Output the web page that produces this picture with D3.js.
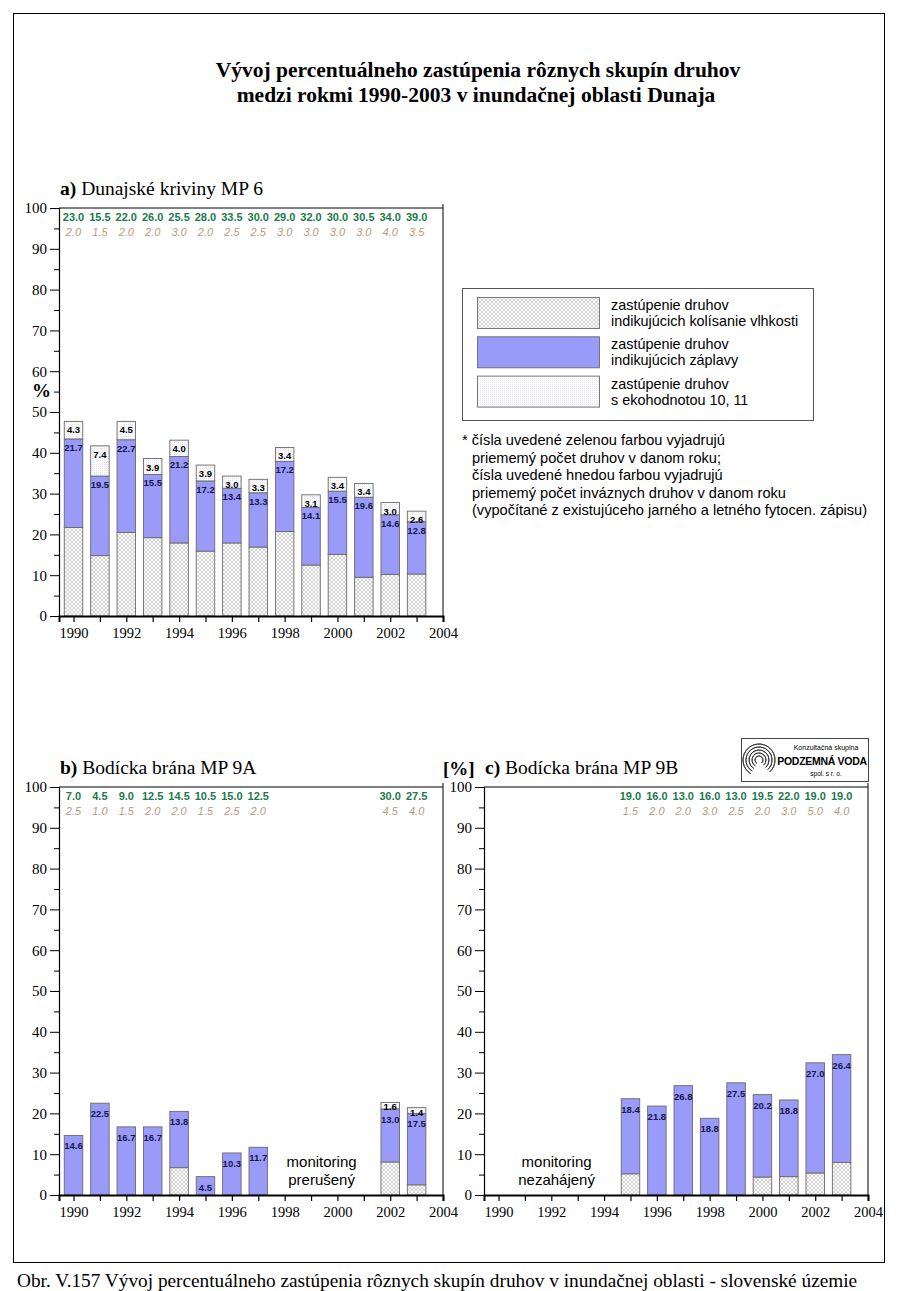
<!DOCTYPE html>
<html><head><meta charset="utf-8">
<script src="https://cdn.jsdelivr.net/npm/d3@7/dist/d3.min.js"></script>
<style>body{margin:0;background:#fff}svg{display:block}</style>
</head><body>
<script>
// ---------- data ----------
const yearsA = [1990,1991,1992,1993,1994,1995,1996,1997,1998,1999,2000,2001,2002,2003];
const fluctA = [21.7,14.8,20.5,19.2,17.9,15.9,17.9,16.9,20.7,12.5,15.1,9.5,10.2,10.3];
const floodA = [21.7,19.5,22.7,15.5,21.2,17.2,13.4,13.3,17.2,14.1,15.5,19.6,14.6,12.8];
const ecoA   = [4.3,7.4,4.5,3.9,4.0,3.9,3.0,3.3,3.4,3.1,3.4,3.4,3.0,2.6];
const speciesA  = ["23.0","15.5","22.0","26.0","25.5","28.0","33.5","30.0","29.0","32.0","30.0","30.5","34.0","39.0"];
const invasiveA = ["2.0","1.5","2.0","2.0","3.0","2.0","2.5","2.5","3.0","3.0","3.0","3.0","4.0","3.5"];

const yearsB = [1990,1991,1992,1993,1994,1995,1996,1997,2002,2003];
const fluctB = [0,0,0,0,6.7,0,0,0,8.1,2.5];
const floodB = [14.6,22.5,16.7,16.7,13.8,4.5,10.3,11.7,13.0,17.5];
const ecoB   = [0,0,0,0,0,0,0,0,1.6,1.4];
const speciesB  = ["7.0","4.5","9.0","12.5","14.5","10.5","15.0","12.5","30.0","27.5"];
const invasiveB = ["2.5","1.0","1.5","2.0","2.0","1.5","2.5","2.0","4.5","4.0"];

const yearsC = [1995,1996,1997,1998,1999,2000,2001,2002,2003];
const fluctC = [5.2,0,0,0,0,4.4,4.5,5.4,8.0];
const floodC = [18.4,21.8,26.8,18.8,27.5,20.2,18.8,27.0,26.4];
const ecoC   = [0,0,0,0,0,0,0,0,0];
const speciesC  = ["19.0","16.0","13.0","16.0","13.0","19.5","22.0","19.0","19.0"];
const invasiveC = ["1.5","2.0","2.0","3.0","2.5","2.0","3.0","5.0","4.0"];

const yTicks = [0,10,20,30,40,50,60,70,80,90,100];
const yMinor = [5,15,25,35,45,55,65,75,85,95];
const xTicks = [1990,1991,1992,1993,1994,1995,1996,1997,1998,1999,2000,2001,2002,2003,2004];
const xLabels = [1990,1992,1994,1996,1998,2000,2002,2004];

const legendItems = [
  ["zastúpenie druhov","indikujúcich kolísanie vlhkosti"],
  ["zastúpenie druhov","indikujúcich záplavy"],
  ["zastúpenie druhov","s ekohodnotou 10, 11"]
];
const noteLines = [
  "* čísla uvedené zelenou farbou vyjadrujú",
  "priememý počet druhov v danom roku;",
  "čísla uvedené hnedou farbou vyjadrujú",
  "priememý počet inváznych druhov v danom roku",
  "(vypočítané z existujúceho jarného a letného fytocen. zápisu)"
];

// ---------- drawing ----------
const W = 900, H = 1291;
const SANS = "'Liberation Sans', Arial, sans-serif";
const SERIF = "'Liberation Serif', 'Times New Roman', serif";
const svg = d3.select("body").append("svg").attr("width", W).attr("height", H)
  .style("font-family", SANS);

const defs = svg.append("defs");
const hatch = defs.append("pattern").attr("id","hatch").attr("patternUnits","userSpaceOnUse")
  .attr("width",4).attr("height",4);
hatch.append("rect").attr("width",4).attr("height",4).attr("fill","#fcfcfc");
hatch.append("path").attr("d","M0,2 L2,0 L4,2 M0,2 L2,4 L4,2").attr("stroke","#b8b8b8").attr("stroke-width",0.6).attr("fill","none");
const dots = defs.append("pattern").attr("id","dots").attr("patternUnits","userSpaceOnUse")
  .attr("width",2).attr("height",2);
dots.append("rect").attr("width",2).attr("height",2).attr("fill","#fcfcfe");
dots.append("rect").attr("width",0.8).attr("height",0.8).attr("fill","#d8d8e6");

const BLUE = "#9a9af8";
const GREEN = "#1b7a4c";
const BROWN = "#b69a80";

// outer frame
svg.append("rect").attr("x",13.5).attr("y",13.5).attr("width",871).attr("height",1249)
  .attr("fill","none").attr("stroke","#000").attr("stroke-width",1);

// title
svg.append("text").attr("x",478).attr("y",77).attr("text-anchor","middle")
  .style("font-family",SERIF).attr("font-weight","bold").attr("font-size",21.5)
  .text("Vývoj percentuálneho zastúpenia rôznych skupín druhov");
svg.append("text").attr("x",476).attr("y",102).attr("text-anchor","middle")
  .style("font-family",SERIF).attr("font-weight","bold").attr("font-size",21.5)
  .text("medzi rokmi 1990-2003 v inundačnej oblasti Dunaja");

// caption
svg.append("text").attr("x",17).attr("y",1287).style("font-family",SERIF).attr("font-size",19.3)
  .text("Obr. V.157 Vývoj percentuálneho zastúpenia rôznych skupín druhov v inundačnej oblasti - slovenské územie");

function drawChart(cfg){
  const g = svg.append("g");
  const x = d3.scaleLinear().domain([1989.45, 2004]).range([cfg.left, cfg.right]);
  const y = d3.scaleLinear().domain([0,100]).range([cfg.bottom, cfg.top]);

  // panel title
  const t = g.append("text").attr("x",cfg.left+1).attr("y",cfg.top-13)
    .style("font-family",SERIF).attr("font-size",19.5);
  t.append("tspan").attr("font-weight","bold").text(cfg.letter+") ");
  t.append("tspan").text(cfg.title);

  // bars
  const bw = 18.5;
  cfg.years.forEach((yr,i)=>{
    const segs = [
      {v: cfg.fluct[i], fill:"url(#hatch)"},
      {v: cfg.flood[i], fill: BLUE},
      {v: cfg.eco[i], fill:"url(#dots)"}
    ];
    let base = 0;
    segs.forEach(s=>{
      if (s.v > 0){
        g.append("rect").attr("x",x(yr)-bw/2).attr("width",bw)
          .attr("y",y(base+s.v)).attr("height",y(base)-y(base+s.v))
          .attr("fill",s.fill).attr("stroke","#6a6a6a").attr("stroke-width",0.9);
      }
      base += s.v;
    });
    const floodTop = y(cfg.fluct[i]+cfg.flood[i]);
    g.append("text").attr("x",x(yr)).attr("y",floodTop+cfg.floodOff)
      .attr("text-anchor","middle").attr("font-size",9.5).attr("font-weight","bold")
      .attr("fill","#16164e").text(cfg.flood[i].toFixed(1));
    if (cfg.eco[i] > 0){
      const top = y(cfg.fluct[i]+cfg.flood[i]+cfg.eco[i]);
      g.append("text").attr("x",x(yr)).attr("y",top+cfg.ecoOff)
        .attr("text-anchor","middle").attr("font-size",9.5).attr("font-weight","bold")
        .attr("fill","#000").text(cfg.eco[i].toFixed(1));
    }
    g.append("text").attr("x",x(yr)).attr("y",cfg.top+13).attr("text-anchor","middle")
      .attr("font-size",11).attr("font-weight","bold").attr("fill",GREEN).text(cfg.species[i]);
    g.append("text").attr("x",x(yr)).attr("y",cfg.top+28).attr("text-anchor","middle")
      .attr("font-size",11).attr("font-style","italic").attr("fill",BROWN).text(cfg.invasive[i]);
  });

  // frame
  g.append("line").attr("x1",cfg.left).attr("x2",cfg.right).attr("y1",cfg.top).attr("y2",cfg.top).attr("stroke","#000");
  g.append("line").attr("x1",cfg.right).attr("x2",cfg.right).attr("y1",cfg.top-4).attr("y2",cfg.bottom).attr("stroke","#000");

  // y axis
  const ya = g.append("g").attr("transform",`translate(${cfg.left},0)`)
    .call(d3.axisLeft(y).tickValues(yTicks).tickSize(9).tickPadding(3).tickFormat(d3.format("d")));
  ya.attr("font-family",null);
  ya.select(".domain").attr("stroke","#000").attr("stroke-width",1.2);
  ya.selectAll("text").style("font-family",SERIF).style("font-size","15px").attr("fill","#000");
  g.append("g").attr("transform",`translate(${cfg.left},0)`)
    .call(d3.axisLeft(y).tickValues(yMinor).tickSize(5).tickFormat(""))
    .select(".domain").remove();

  // x axis
  const xa = g.append("g").attr("transform",`translate(0,${cfg.bottom})`)
    .call(d3.axisBottom(x).tickValues(xTicks).tickSize(6).tickPadding(6)
      .tickFormat(d => xLabels.includes(d) ? d : ""));
  xa.attr("font-family",null);
  xa.select(".domain").attr("stroke","#000").attr("stroke-width",2);
  xa.selectAll("line").attr("stroke-width",1.2);
  xa.selectAll("text").style("font-family",SERIF).style("font-size","14.5px").attr("fill","#000");
  return {g,x,y};
}

const A = drawChart({letter:"a", title:"Dunajské kriviny MP 6", left:59, right:443, top:208, bottom:616,
  years:yearsA, fluct:fluctA, flood:floodA, eco:ecoA, species:speciesA, invasive:invasiveA, floodOff:12, ecoOff:12});
const B = drawChart({letter:"b", title:"Bodícka brána MP 9A", left:59, right:443, top:787, bottom:1195,
  years:yearsB, fluct:fluctB, flood:floodB, eco:ecoB, species:speciesB, invasive:invasiveB, floodOff:14, ecoOff:8});
const C = drawChart({letter:"c", title:"Bodícka brána MP 9B", left:484, right:868, top:787, bottom:1195,
  years:yearsC, fluct:fluctC, flood:floodC, eco:ecoC, species:speciesC, invasive:invasiveC, floodOff:14, ecoOff:8});

// % labels
svg.append("text").attr("x",32).attr("y",397).style("font-family",SERIF).attr("font-weight","bold")
  .attr("font-size",19).text("%");
svg.append("text").attr("x",443).attr("y",775).style("font-family",SERIF).attr("font-weight","bold")
  .attr("font-size",19).text("[%]");

// monitoring notes
[["monitoring","prerušený",B,1999.4],["monitoring","nezahájený",C,1992.2]].forEach(([l1,l2,ch,yr])=>{
  ch.g.append("text").attr("x",ch.x(yr)).attr("y",1167).attr("text-anchor","middle").attr("font-size",15).text(l1);
  ch.g.append("text").attr("x",ch.x(yr)).attr("y",1185).attr("text-anchor","middle").attr("font-size",15).text(l2);
});

// legend
const lg = svg.append("g");
lg.append("rect").attr("x",462.5).attr("y",288.5).attr("width",351).attr("height",132)
  .attr("fill","#fff").attr("stroke","#555").attr("stroke-width",1);
const swFills = ["url(#hatch)", BLUE, "url(#dots)"];
legendItems.forEach((lines,i)=>{
  const yy = 297 + i*39.3;
  lg.append("rect").attr("x",477.5).attr("y",yy+0.5).attr("width",122).attr("height",31)
    .attr("fill",swFills[i]).attr("stroke","#6a6a6a").attr("stroke-width",0.9);
  lines.forEach((s,j)=>{
    lg.append("text").attr("x",611).attr("y",yy+13+j*16).attr("font-size",14.4).text(s);
  });
});

// note
noteLines.forEach((s,i)=>{
  svg.append("text").attr("x", i===0 ? 462 : 472).attr("y",445+i*17.6)
    .attr("font-size",14.6).text(s);
});

// logo
const lo = svg.append("g");
lo.append("rect").attr("x",741.5).attr("y",738.5).attr("width",127).attr("height",43)
  .attr("fill","#fff").attr("stroke","#444").attr("stroke-width",1);
const icon = lo.append("g").attr("transform","translate(759,760)");
[4,7,10,13,16].forEach(r=>{
  icon.append("path").attr("d",d3.arc()({innerRadius:r,outerRadius:r,startAngle:-2.6,endAngle:2.4}))
    .attr("fill","none").attr("stroke","#333").attr("stroke-width",0.9);
});
lo.append("text").attr("x",826).attr("y",750).attr("text-anchor","middle").attr("font-size",7).text("Konzultačná skupina");
lo.append("text").attr("x",822).attr("y",765).attr("text-anchor","middle").attr("font-size",10.5)
  .attr("font-weight","bold").attr("letter-spacing",-0.3).text("PODZEMNÁ VODA");
lo.append("text").attr("x",826).attr("y",776).attr("text-anchor","middle").attr("font-size",6.5).text("spol. s r. o.");
</script>
</body></html>
